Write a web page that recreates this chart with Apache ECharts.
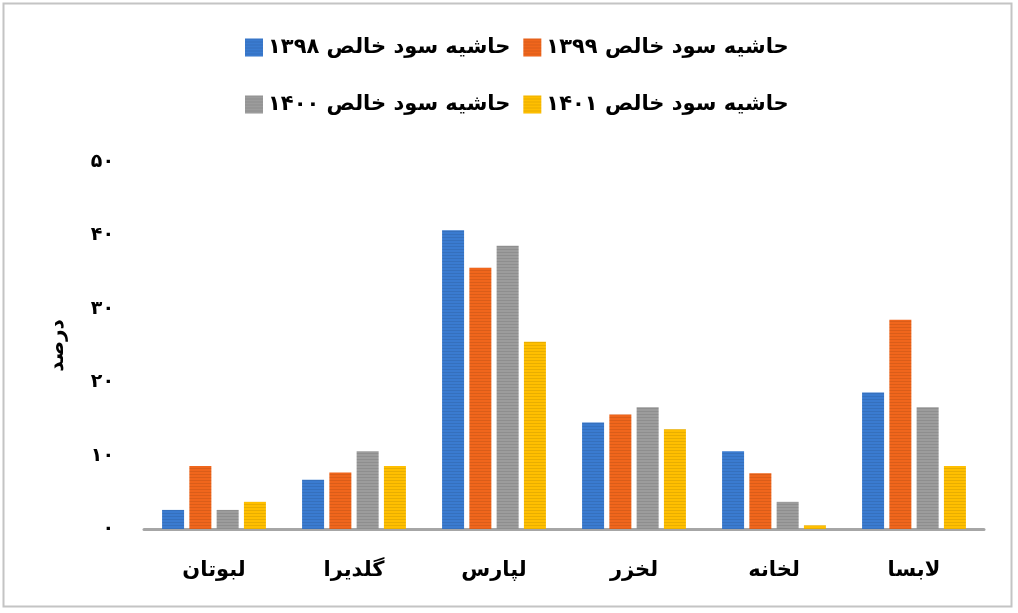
<!DOCTYPE html>
<html>
<head>
<meta charset="utf-8">
<script src="https://cdn.jsdelivr.net/npm/echarts@6/dist/echarts.min.js"></script>
<style>
html,body{margin:0;padding:0;background:#fff;}
#c{width:1018px;height:613px;}
</style>
</head>
<body>
<div id="c"></div>
<script>
const categories = ['لبوتان','گلدیرا','لپارس','لخزر','لخانه','لابسا'];
const seriesNames = ['حاشیه سود خالص ۱۳۹۸','حاشیه سود خالص ۱۳۹۹','حاشیه سود خالص ۱۴۰۰','حاشیه سود خالص ۱۴۰۱'];
const values1398 = [2.6, 6.7, 40.7, 14.5, 10.6, 18.6];
const values1399 = [8.6, 7.7, 35.6, 15.6, 7.6, 28.5];
const values1400 = [2.6, 10.6, 38.6, 16.6, 3.7, 16.6];
const values1401 = [3.7, 8.6, 25.5, 13.6, 0.5, 8.6];
const yTickLabels = ['۰','۱۰','۲۰','۳۰','۴۰','۵۰'];
const yAxisName = 'درصد';

const colors = ['#3a7bd0','#f0661c','#9c9c9c','#ffbf00'];
const allValues = [values1398, values1399, values1400, values1401];
const FONT = 'DejaVu Sans';

const chart = echarts.init(document.getElementById('c'));
const series = allValues.map((v, i) => ({
  name: seriesNames[i],
  type: 'bar',
  data: v,
  barWidth: 22,
  barGap: '24%',
  itemStyle: {
    color: colors[i],
    decal: {
      symbol: 'rect',
      symbolSize: 1,
      dashArrayX: [1, 0],
      dashArrayY: [1, 2],
      rotation: 0,
      color: 'rgba(0,0,0,0.09)'
    }
  }
}));

const legendCommon = {
  orient: 'horizontal',
  itemWidth: 18,
  itemHeight: 18,
  itemGap: 13,
  icon: 'rect',
  textStyle: { fontFamily: FONT, fontWeight: 'bold', fontSize: 21, color: '#000' }
};

chart.setOption({
  backgroundColor: '#fff',
  animation: false,
  legend: [
    Object.assign({ left: 240, top: 32, data: [seriesNames[0], seriesNames[1]] }, legendCommon),
    Object.assign({ left: 240, top: 89, data: [seriesNames[2], seriesNames[3]] }, legendCommon)
  ],
  grid: { left: 144, right: 34, top: 162, bottom: 84, containLabel: false },
  xAxis: {
    type: 'category',
    data: categories,
    axisLine: { lineStyle: { color: '#a6a6a6', width: 3 } },
    axisTick: { show: false },
    axisLabel: { fontFamily: FONT, fontWeight: 'bold', fontSize: 21, color: '#000', margin: 31 }
  },
  yAxis: {
    type: 'value',
    min: 0,
    max: 50,
    interval: 10,
    name: yAxisName,
    nameLocation: 'middle',
    nameGap: 76,
    nameTextStyle: { fontFamily: FONT, fontWeight: 'bold', fontSize: 20, color: '#000' },
    axisLine: { show: false },
    axisTick: { show: false },
    splitLine: { show: false },
    axisLabel: {
      fontFamily: FONT, fontWeight: 'bold', fontSize: 19, color: '#000', margin: 30,
      formatter: (val) => yTickLabels[Math.round(val / 10)]
    }
  },
  graphic: [{
    type: 'rect',
    shape: { x: 3.5, y: 3.5, width: 1008, height: 603 },
    style: { fill: 'none', stroke: '#c4c4c4', lineWidth: 2 },
    silent: true
  }],
  series: series
});
</script>
</body>
</html>
